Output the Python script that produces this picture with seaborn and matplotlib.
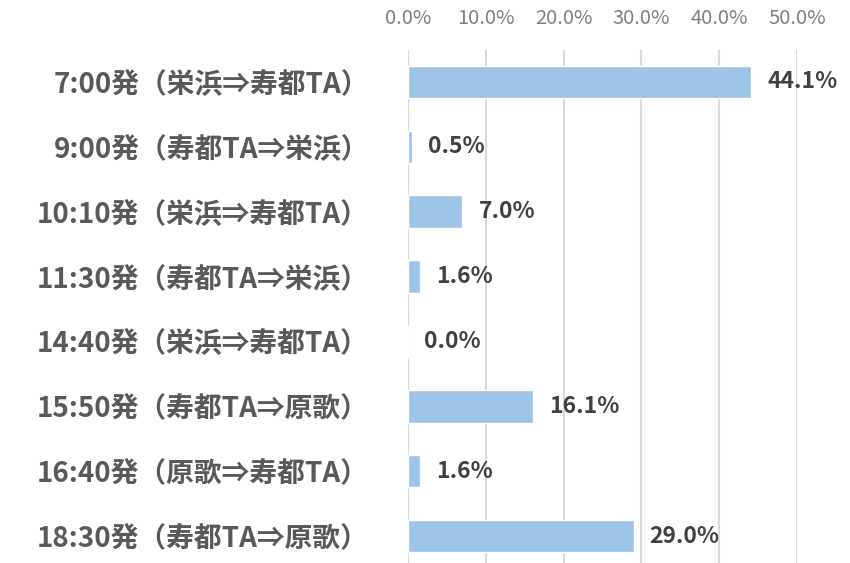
import matplotlib
matplotlib.use("Agg")
import matplotlib.pyplot as plt
import seaborn as sns
import pandas as pd
from matplotlib.ticker import FuncFormatter

categories = [
    "7:00発（栄浜⇒寿都TA）",
    "9:00発（寿都TA⇒栄浜）",
    "10:10発（栄浜⇒寿都TA）",
    "11:30発（寿都TA⇒栄浜）",
    "14:40発（栄浜⇒寿都TA）",
    "15:50発（寿都TA⇒原歌）",
    "16:40発（原歌⇒寿都TA）",
    "18:30発（寿都TA⇒原歌）",
]
values = [0.441, 0.005, 0.070, 0.016, 0.000, 0.161, 0.016, 0.290]
xticks = [0.0, 0.1, 0.2, 0.3, 0.4, 0.5]

sns.set_theme(style="white")
plt.rcParams["font.family"] = ["Noto Sans CJK JP", "DejaVu Sans"]

df = pd.DataFrame({"cat": categories, "val": values})

fig = plt.figure(figsize=(8.5, 5.63), dpi=100)
ax = fig.add_axes([408 / 850, 0.0, (797 - 408) / 850, 1 - 50 / 563])

sns.barplot(data=df, x="val", y="cat", orient="h", color="#9DC3E6",
            saturation=1, width=0.5, ax=ax, zorder=3)

ax.set_xlim(0, 0.5)
ax.set_ylim(7.416, -0.493)
ax.set_xticks(xticks)
ax.xaxis.set_major_formatter(FuncFormatter(lambda v, p: f"{v*100:.1f}%"))
ax.xaxis.tick_top()
ax.tick_params(axis="x", length=0, pad=15, labelsize=14.5, labelcolor="#7F7F7F")
ax.tick_params(axis="y", length=0, pad=28, labelsize=20, labelcolor="#595959")
for lab in ax.get_yticklabels():
    lab.set_fontweight("bold")
ax.grid(axis="x", color="#D9D9D9", linewidth=1.5, zorder=0)
ax.set_axisbelow(True)
for s in ax.spines.values():
    s.set_visible(False)
ax.set_xlabel("")
ax.set_ylabel("")

for i, v in enumerate(values):
    ax.annotate(f"{v*100:.1f}%", xy=(v, i), xytext=(11.5, 0), textcoords="offset points",
                ha="left", va="center", fontsize=16.5, fontweight="bold", color="#404040")

fig.savefig("out.png", dpi=100)
